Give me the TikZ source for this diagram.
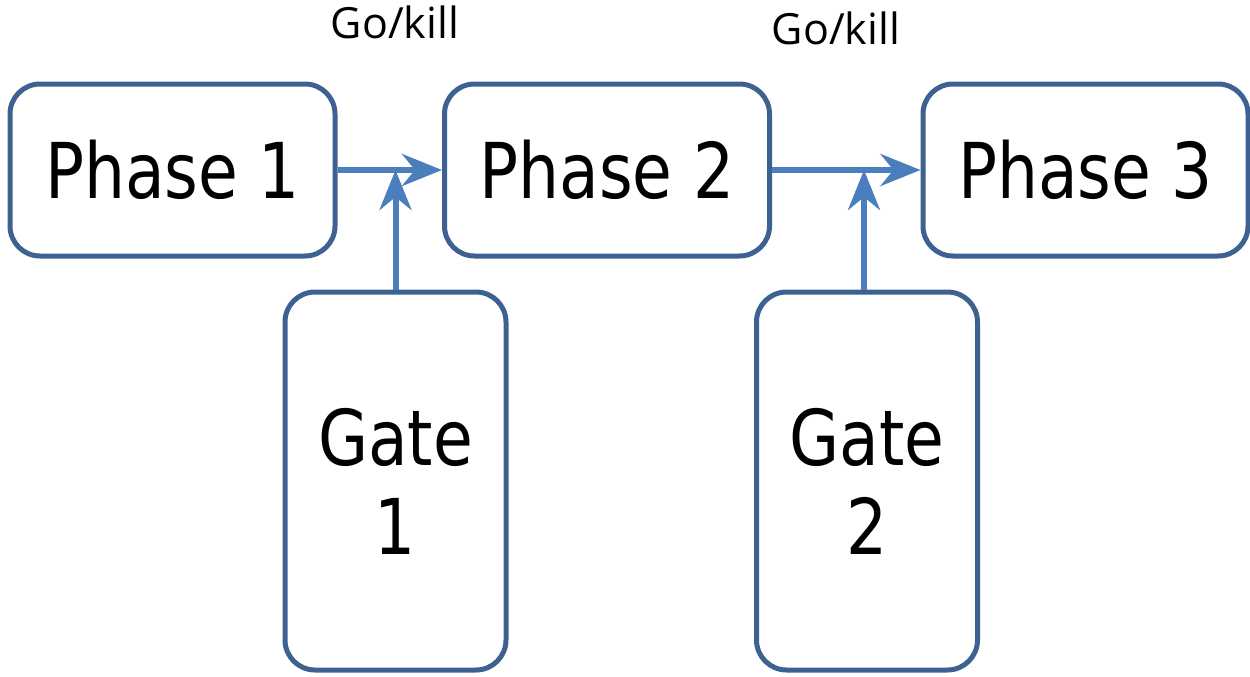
\documentclass[tikz,border=0pt]{standalone}
\usepackage{fontspec}
\setmainfont{DejaVu Sans}[FakeStretch=0.84]
\newfontfamily\labelfont{Open Sans}
\usetikzlibrary{arrows.meta}
\definecolor{boxline}{HTML}{3D6190}
\definecolor{arrowline}{HTML}{4A7EBD}
\begin{document}
\begin{tikzpicture}[x=1pt,y=-1pt,
  phasebox/.style={draw=boxline,line width=5pt,rounded corners=30pt,
    minimum width=325pt,minimum height=172pt,inner sep=0pt,
    font=\fontsize{77}{90}\selectfont},
  gatebox/.style={draw=boxline,line width=5pt,rounded corners=30pt,
    minimum width=221pt,minimum height=378pt,inner sep=0pt,align=center,
    font=\fontsize{77}{89}\selectfont},
  flow/.style={draw=arrowline,line width=6pt,
    -{Stealth[length=40pt,width=32pt,inset=13pt]}},
  gklabel/.style={font=\labelfont\fontsize{43}{48}\selectfont,inner sep=0pt,anchor=base}
]
\useasboundingbox (0,0) rectangle (1250,677);
\node[phasebox] (p1) at (172.5,170) {Phase 1};
\node[phasebox] (p2) at (607,170) {Phase 2};
\node[phasebox] (p3) at (1085.5,170) {Phase 3};
\node[gatebox] (g1) at (395.5,481) {Gate\\1};
\node[gatebox] (g2) at (867,481) {Gate\\2};
\coordinate (j1) at (395.5,170);
\coordinate (j2) at (864,170);
\draw[flow] (p1.east) -- (p2.west);
\draw[flow] (p2.east) -- (p3.west);
\draw[flow] (g1.north) -- (j1);
\draw[flow] (g2.north -| j2) -- (j2);
\node[gklabel] (l1) at (395,39) {Go/kill};
\node[gklabel] (l2) at (836,45) {Go/kill};
\end{tikzpicture}
\end{document}
